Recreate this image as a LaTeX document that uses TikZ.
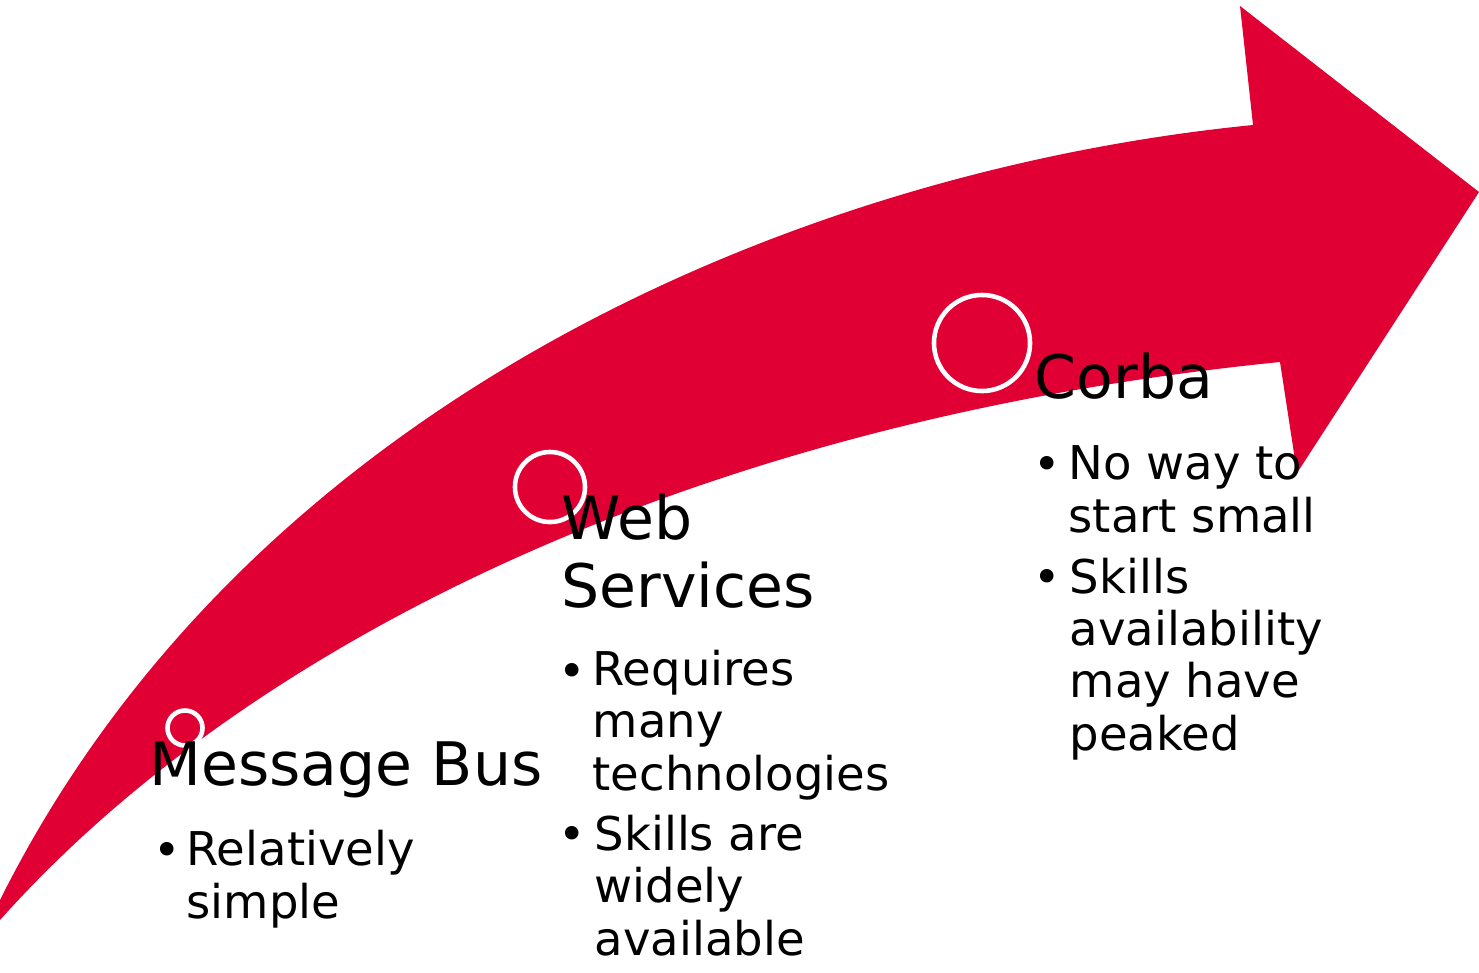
\documentclass[tikz,border=0pt]{standalone}
\usepackage{fontspec}
\setmainfont{DejaVu Sans}
\usepackage{xcolor}
\usetikzlibrary{positioning}
\definecolor{arrowred}{RGB}{224,0,52}

\begin{document}
\begin{tikzpicture}[x=0.01cm, y=-0.01cm,
	head/.style={anchor=base west, inner sep=0, align=left, font=\fontsize{17.07}{19.07}\selectfont},
	point/.style={anchor=base west, inner sep=0, align=left, font=\fontsize{13.23}{14.8}\selectfont},
	dot/.style={anchor=base west, inner sep=0, font=\fontsize{13.23}{14.8}\selectfont},
	stop/.style={circle, draw=white, fill=arrowred, line width=1.3pt, inner sep=0}]
	\useasboundingbox (0,0) rectangle (1479,972);
	% the bent arrow
	\fill[arrowred] (0,920) .. controls (250,640) and (700,420) .. (1280,362)
		-- (1297,473) -- (1479,192) -- (1240,6) -- (1253,125)
		.. controls (800,170) and (250,400) .. (0,900) -- cycle;
	% stops along the way
	\node (S1) at (185,728) [stop, minimum size=0.35cm] {};
	\node (S2) at (550,487) [stop, minimum size=0.70cm] {};
	\node (S3) at (982,343) [stop, minimum size=0.96cm] {};
	% Message Bus (base = last line)
	\node (Bus) at (149,785) [head] {Message Bus};
	\node (BusA) at (186,918) [point] {Relatively\\simple};
	\node (BusDotA) at (153,866) [dot] {•};
	% Web Services
	\node (Web) at (561,607) [head] {Web\\Services};
	\node (WebA) at (592,790) [point] {Requires\\many\\technologies};
	\node (WebDotA) at (558,687) [dot] {•};
	\node (WebB) at (594,955) [point] {Skills are\\widely\\available};
	\node (WebDotB) at (558,850) [dot] {•};
	% Corba
	\node (Corba) at (1034,398) [head] {Corba};
	\node (CorbaA) at (1068,532) [point] {No way to\\start small};
	\node (CorbaDotA) at (1033,480) [dot] {•};
	\node (CorbaB) at (1069,750) [point] {Skills\\availability\\may have\\peaked};
	\node (CorbaDotB) at (1033,593) [dot] {•};
\end{tikzpicture}
\end{document}
